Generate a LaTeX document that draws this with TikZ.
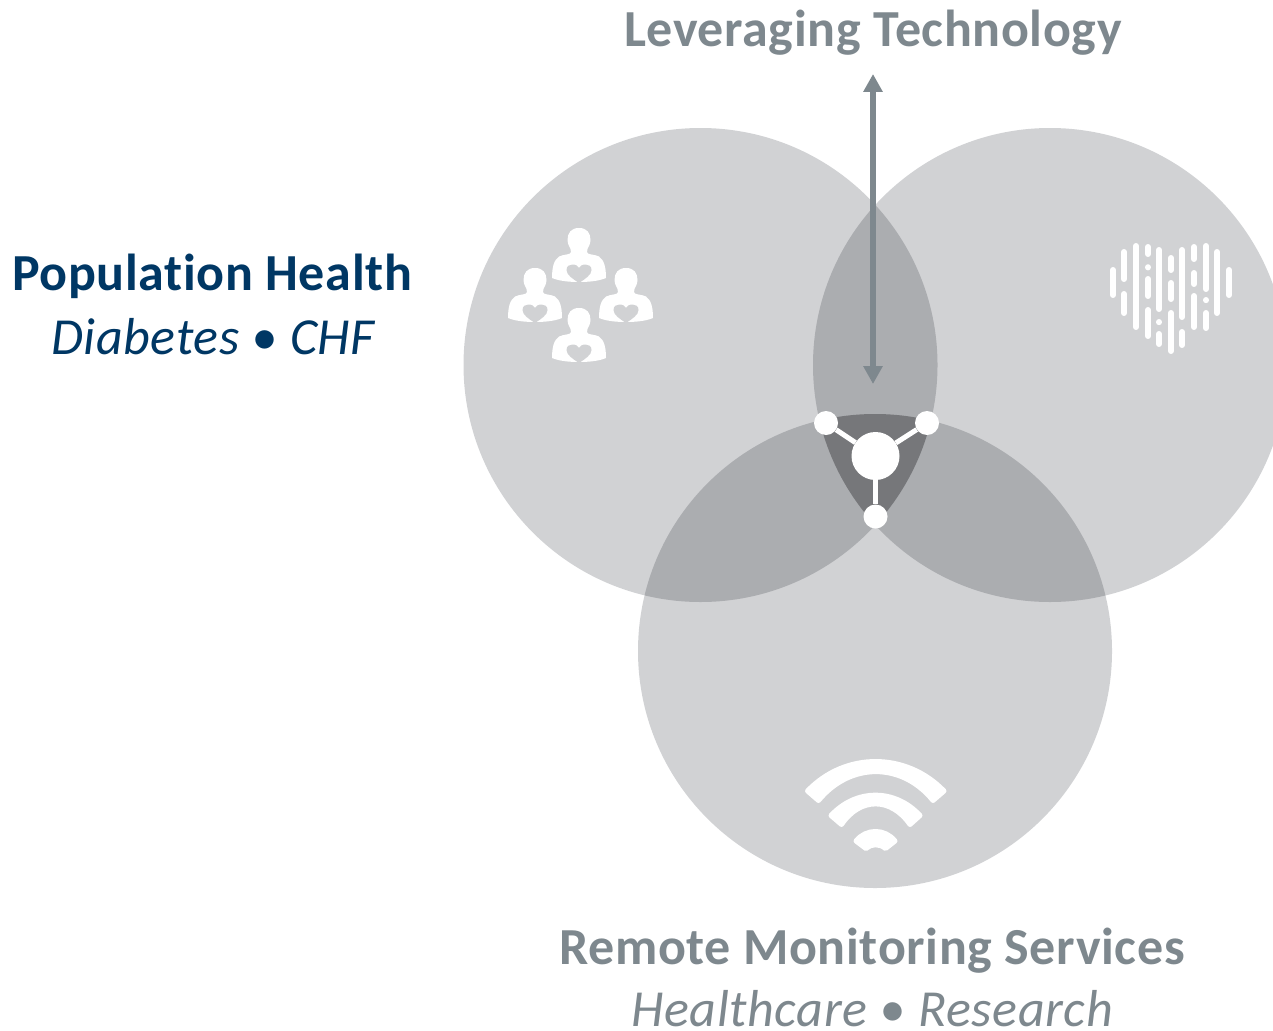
\documentclass[tikz,border=0pt]{standalone}
\usepackage{fontspec}
\setmainfont{Carlito}[LetterSpace=1.2,Ligatures=NoCommon]
\usetikzlibrary{arrows.meta}
\definecolor{venngray}{HTML}{D1D2D4}
\definecolor{pairgray}{HTML}{ABADB0}
\definecolor{coregray}{HTML}{76777A}
\definecolor{labelgray}{HTML}{7E888E}
\definecolor{labelnavy}{HTML}{003764}
\begin{document}
\begin{tikzpicture}[x=1pt,y=-1pt]

      \tikzset{titlelabel/.style={anchor=base, inner sep=0pt, font=\fontsize{52}{52}\selectfont\bfseries},
               sublabel/.style={anchor=base, inner sep=0pt, font=\fontsize{52}{52}\selectfont\itshape},
               hub/.style={circle, inner sep=0pt, minimum size=48pt, fill=white},
               sat/.style={circle, inner sep=0pt, minimum size=24pt, fill=white},
               link/.style={white, line width=5pt},
               techarrow/.style={labelgray, line width=5.5pt, {Triangle[length=18pt,width=18.5pt]}-{Triangle[length=18pt,width=18.5pt]}},
               heartbar/.style={white, line width=6pt, line cap=round},
               wifiband/.style={fill=white, draw=white, line width=5pt, line join=round},
               pics/person/.style={code={
                 \fill[white] (0,-27) .. controls (8,-27) and (11.5,-22) .. (11.5,-15) .. controls (11.5,-9) and (8,-8) .. (8,-3)
                   .. controls (8,0) and (15,-1) .. (20,1.5) .. controls (25,5) and (27,12) .. (27,23)
                   .. controls (20,26) and (10,27) .. (0,27) .. controls (-10,27) and (-20,26) .. (-27,23)
                   .. controls (-27,12) and (-25,5) .. (-20,1.5) .. controls (-15,-1) and (-8,0) .. (-8,-3)
                   .. controls (-8,-8) and (-11.5,-9) .. (-11.5,-15) .. controls (-11.5,-22) and (-8,-27) .. (0,-27) -- cycle;
                 \fill[venngray] (0,28) .. controls (-6,24) and (-12.5,20) .. (-12.5,15) .. controls (-12.5,11) and (-9.5,9.5) .. (-6.5,9.5)
                   .. controls (-3,9.5) and (-1,11) .. (0,13) .. controls (1,11) and (3,9.5) .. (6.5,9.5)
                   .. controls (9.5,9.5) and (12.5,11) .. (12.5,15) .. controls (12.5,20) and (6,24) .. (0,28) -- cycle;
               }}}

      \clip (0,0) rectangle (1273,1030);
%% Circles
      \coordinate (popc) at (700.5,365);
      \coordinate (techc) at (1050,365);
      \coordinate (remc) at (875,651);
      \fill[venngray] (popc) circle (237);
      \fill[venngray] (techc) circle (237);
      \fill[venngray] (remc) circle (237);
%% Overlaps
      \begin{scope}
        \clip (popc) circle (237);
        \fill[pairgray] (techc) circle (237);
        \fill[pairgray] (remc) circle (237);
      \end{scope}
      \begin{scope}
        \clip (techc) circle (237);
        \fill[pairgray] (remc) circle (237);
        \clip (popc) circle (237);
        \fill[coregray] (remc) circle (237);
      \end{scope}
%% Labels
      \node[titlelabel, text=labelgray] (techlabel) at (873,47) {Leveraging Technology};
      \node[titlelabel, text=labelnavy] (poplabel) at (212,290) {Population Health};
      \node[sublabel, text=labelnavy] (popsub) at (213,354) {Diabetes • CHF};
      \node[titlelabel, text=labelgray] (remlabel) at (872,964) {Remote Monitoring Services};
      \node[sublabel, text=labelgray] (remsub) at (872,1026.5) {Healthcare • Research};
%% Arrow
      \coordinate (arrowtop) at (873,74);
      \coordinate (arrowbot) at (873,384);
      \draw[techarrow] (arrowtop) -- (arrowbot);
%% Hub
      \node[hub] (h0) at (875.5,456) {};
      \node[sat] (h1) at (826,423) {};
      \node[sat] (h2) at (927,423) {};
      \node[sat] (h3) at (875.5,516.5) {};
      \draw[link] (h0) -- (h1);
      \draw[link] (h0) -- (h2);
      \draw[link] (h0) -- (h3);
%% People
      \pic at (579,255) {person};
      \pic at (535,295) {person};
      \pic at (626,295) {person};
      \pic at (579,335) {person};
%% Heart
      \foreach \bx/\btop/\bbot in {1113/270/295, 1124/252/279, 1124/294/313, 1136/246/327, 1148/247/254, 1148/267.2/267.4,
          1148/279/296, 1148/310/336, 1159/250/309, 1159/322/322.2, 1159/334/344, 1171/258/270, 1171/283/299, 1171/313/351,
          1182/250/317, 1182/332/345, 1194/247/259, 1194/273/284, 1194/296/327, 1206/246/289, 1206/300/300.2, 1206/313/328,
          1217/252/313, 1229/270/295}
        \draw[heartbar] (\bx,\btop) -- (\bx,\bbot);
%% Wifi
      \draw[wifiband] (807.5,791) .. controls (845,751.7) and (906,751.7) .. (944,791) -- (933,800.5)
        .. controls (902,762) and (850,762) .. (818.5,800.5) -- cycle;
      \draw[wifiband] (831,815.5) .. controls (856,788.4) and (895,788.4) .. (920,815.5) -- (910,824.5)
        .. controls (891,797) and (860,797) .. (841.5,824.5) -- cycle;
      \draw[wifiband] (856,841) .. controls (866,828.3) and (885,828.3) .. (895,841) -- (885.5,848.5)
        .. controls (880,843.5) and (871,843.5) .. (866,848.5) -- cycle;

\end{tikzpicture}
\end{document}
